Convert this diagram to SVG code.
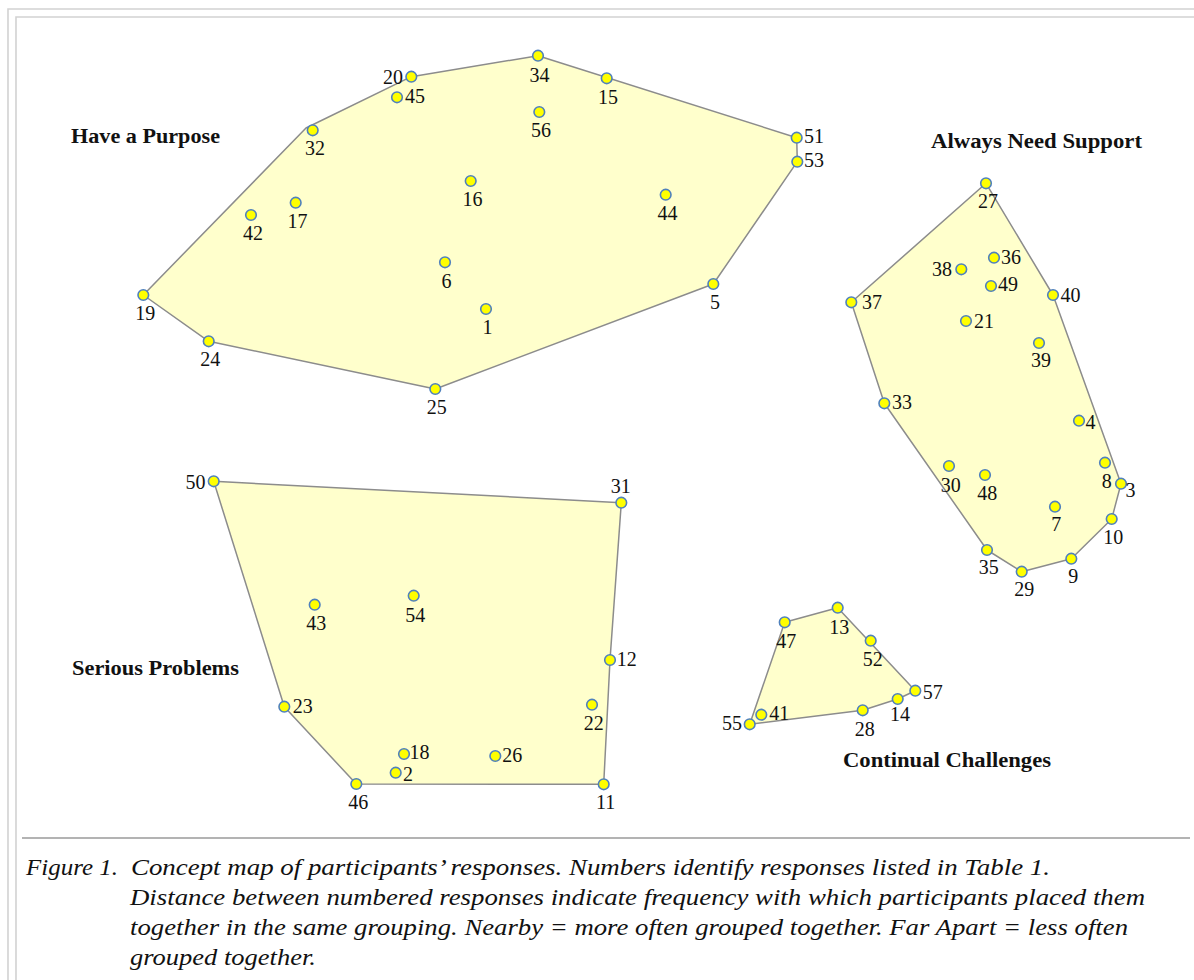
<svg xmlns="http://www.w3.org/2000/svg" width="1194" height="980" viewBox="0 0 1194 980">
<style>
.frame{fill:none;stroke:#d2d2d2;stroke-width:1.6}
.hull{fill:#ffffcc;stroke:#8c8c8c;stroke-width:1.5;stroke-linejoin:round}
.pt{fill:#ffff00;stroke:#4f81bd;stroke-width:1.6}
.n{font-family:"Liberation Serif","DejaVu Serif",serif;font-size:20px;fill:#111}
.m{text-anchor:middle}
.e{text-anchor:end}
.t{font-family:"Liberation Serif","DejaVu Serif",serif;font-size:20px;font-weight:bold;fill:#111}
.cap{font-family:"Liberation Serif","DejaVu Serif",serif;font-size:23px;font-style:italic;fill:#111}
</style>
<rect width="1194" height="980" fill="#ffffff"/>
<path class="frame" d="M1194,9 H8 V980"/>
<path class="frame" d="M1194,17 H16 V980"/>

<g id="connectors">
<polygon id="hull-purpose" class="hull" points="143.3,295 306,128 411.3,76.7 538,55.7 796.7,137.7 797.3,161.7 713.3,284 435.3,389 208.7,341.3"/>
<polygon id="hull-support" class="hull" points="986,183.3 1053,295 1121,483.7 1111.7,519 1071.3,558.7 1021.7,571.7 987,550 884.3,403.3 851.3,302.3"/>
<polygon id="hull-problems" class="hull" points="213.7,481.3 621.3,502.7 610,660 603.7,784.3 356.3,784 284.3,706.7"/>
<polygon id="hull-challenges" class="hull" points="749.7,724.3 784.7,622.3 837.7,607.7 915.3,690.7 897.7,699 862.7,710.3"/>
</g>

<g id="cluster-labels">
<text id="label-purpose" class="t" x="71" y="143" textLength="149" lengthAdjust="spacingAndGlyphs">Have a Purpose</text>
<text id="label-support" class="t" x="931" y="148" textLength="211" lengthAdjust="spacingAndGlyphs">Always Need Support</text>
<text id="label-problems" class="t" x="72" y="675" textLength="167" lengthAdjust="spacingAndGlyphs">Serious Problems</text>
<text id="label-challenges" class="t" x="843" y="767" textLength="208" lengthAdjust="spacingAndGlyphs">Continual Challenges</text>
</g>

<!-- Have a Purpose -->
<g id="n34"><circle class="pt" cx="538" cy="55.7" r="5.3"/><text class="n m" x="539.5" y="81.5">34</text></g>
<g id="n20"><circle class="pt" cx="411.3" cy="76.7" r="5.3"/><text class="n e" x="403" y="84">20</text></g>
<g id="n45"><circle class="pt" cx="397" cy="97.3" r="5.3"/><text class="n" x="405" y="103">45</text></g>
<g id="n15"><circle class="pt" cx="606.7" cy="78.3" r="5.3"/><text class="n m" x="608" y="103.5">15</text></g>
<g id="n56"><circle class="pt" cx="539.3" cy="112" r="5.3"/><text class="n m" x="541" y="137">56</text></g>
<g id="n51"><circle class="pt" cx="796.7" cy="137.7" r="5.3"/><text class="n" x="804" y="143">51</text></g>
<g id="n53"><circle class="pt" cx="797.3" cy="161.7" r="5.3"/><text class="n" x="804" y="167">53</text></g>
<g id="n32"><circle class="pt" cx="312.7" cy="130.3" r="5.3"/><text class="n m" x="315" y="155">32</text></g>
<g id="n16"><circle class="pt" cx="470.7" cy="181" r="5.3"/><text class="n m" x="472.5" y="206">16</text></g>
<g id="n44"><circle class="pt" cx="665.7" cy="194.7" r="5.3"/><text class="n m" x="667.5" y="220">44</text></g>
<g id="n17"><circle class="pt" cx="295.7" cy="202.7" r="5.3"/><text class="n m" x="297.5" y="227.5">17</text></g>
<g id="n42"><circle class="pt" cx="251" cy="215" r="5.3"/><text class="n m" x="253" y="240">42</text></g>
<g id="n6"><circle class="pt" cx="445" cy="262.3" r="5.3"/><text class="n m" x="446.5" y="287.5">6</text></g>
<g id="n19"><circle class="pt" cx="143.3" cy="295" r="5.3"/><text class="n m" x="145.3" y="320">19</text></g>
<g id="n1"><circle class="pt" cx="486" cy="309" r="5.3"/><text class="n m" x="487.5" y="334">1</text></g>
<g id="n5"><circle class="pt" cx="713.3" cy="284" r="5.3"/><text class="n m" x="715" y="308.5">5</text></g>
<g id="n24"><circle class="pt" cx="208.7" cy="341.3" r="5.3"/><text class="n m" x="210.3" y="366">24</text></g>
<g id="n25"><circle class="pt" cx="435.3" cy="389" r="5.3"/><text class="n m" x="436.7" y="414">25</text></g>

<!-- Always Need Support -->
<g id="n27"><circle class="pt" cx="986" cy="183.3" r="5.3"/><text class="n m" x="988" y="207.5">27</text></g>
<g id="n36"><circle class="pt" cx="994" cy="257.7" r="5.3"/><text class="n" x="1001" y="263.5">36</text></g>
<g id="n38"><circle class="pt" cx="961.3" cy="269.3" r="5.3"/><text class="n e" x="952" y="276">38</text></g>
<g id="n49"><circle class="pt" cx="991" cy="286" r="5.3"/><text class="n" x="998" y="291">49</text></g>
<g id="n40"><circle class="pt" cx="1053" cy="295" r="5.3"/><text class="n" x="1060.5" y="302">40</text></g>
<g id="n37"><circle class="pt" cx="851.3" cy="302.3" r="5.3"/><text class="n" x="862" y="309">37</text></g>
<g id="n21"><circle class="pt" cx="966" cy="321" r="5.3"/><text class="n" x="974" y="327.5">21</text></g>
<g id="n39"><circle class="pt" cx="1039" cy="343" r="5.3"/><text class="n m" x="1041" y="367">39</text></g>
<g id="n33"><circle class="pt" cx="884.3" cy="403.3" r="5.3"/><text class="n" x="892" y="409">33</text></g>
<g id="n4"><circle class="pt" cx="1079" cy="420.7" r="5.3"/><text class="n" x="1085.5" y="428.5">4</text></g>
<g id="n8"><circle class="pt" cx="1105" cy="462.7" r="5.3"/><text class="n m" x="1106.7" y="488">8</text></g>
<g id="n30"><circle class="pt" cx="949" cy="466" r="5.3"/><text class="n m" x="950.7" y="491.5">30</text></g>
<g id="n48"><circle class="pt" cx="985" cy="475" r="5.3"/><text class="n m" x="987.3" y="500">48</text></g>
<g id="n3"><circle class="pt" cx="1121" cy="483.7" r="5.3"/><text class="n" x="1125.5" y="497">3</text></g>
<g id="n7"><circle class="pt" cx="1055" cy="506.7" r="5.3"/><text class="n m" x="1056.3" y="531">7</text></g>
<g id="n10"><circle class="pt" cx="1111.7" cy="519" r="5.3"/><text class="n m" x="1113.3" y="543.5">10</text></g>
<g id="n35"><circle class="pt" cx="987" cy="550" r="5.3"/><text class="n m" x="988.7" y="574">35</text></g>
<g id="n9"><circle class="pt" cx="1071.3" cy="558.7" r="5.3"/><text class="n m" x="1073.3" y="582.5">9</text></g>
<g id="n29"><circle class="pt" cx="1021.7" cy="571.7" r="5.3"/><text class="n m" x="1024.3" y="596">29</text></g>

<!-- Serious Problems -->
<g id="n50"><circle class="pt" cx="213.7" cy="481.3" r="5.3"/><text class="n e" x="205.5" y="489">50</text></g>
<g id="n31"><circle class="pt" cx="621.3" cy="502.7" r="5.3"/><text class="n m" x="620.7" y="492.5">31</text></g>
<g id="n43"><circle class="pt" cx="314.7" cy="604.7" r="5.3"/><text class="n m" x="316.3" y="630">43</text></g>
<g id="n54"><circle class="pt" cx="413.7" cy="595.7" r="5.3"/><text class="n m" x="415.3" y="621.5">54</text></g>
<g id="n12"><circle class="pt" cx="610" cy="660" r="5.3"/><text class="n" x="616.7" y="666">12</text></g>
<g id="n23"><circle class="pt" cx="284.3" cy="706.7" r="5.3"/><text class="n" x="292.7" y="712.5">23</text></g>
<g id="n22"><circle class="pt" cx="592" cy="704.7" r="5.3"/><text class="n m" x="593.7" y="730">22</text></g>
<g id="n18"><circle class="pt" cx="404" cy="754" r="5.3"/><text class="n" x="409.5" y="759">18</text></g>
<g id="n26"><circle class="pt" cx="495.3" cy="756" r="5.3"/><text class="n" x="502.3" y="762">26</text></g>
<g id="n2"><circle class="pt" cx="395.7" cy="772.7" r="5.3"/><text class="n" x="403" y="781">2</text></g>
<g id="n46"><circle class="pt" cx="356.3" cy="784" r="5.3"/><text class="n m" x="358.3" y="808.5">46</text></g>
<g id="n11"><circle class="pt" cx="603.7" cy="784.3" r="5.3"/><text class="n m" x="605.7" y="808.5">11</text></g>

<!-- Continual Challenges -->
<g id="n13"><circle class="pt" cx="837.7" cy="607.7" r="5.3"/><text class="n m" x="839.3" y="633.5">13</text></g>
<g id="n47"><circle class="pt" cx="784.7" cy="622.3" r="5.3"/><text class="n m" x="786.3" y="647.5">47</text></g>
<g id="n52"><circle class="pt" cx="870.7" cy="640.7" r="5.3"/><text class="n m" x="872.7" y="666">52</text></g>
<g id="n57"><circle class="pt" cx="915.3" cy="690.7" r="5.3"/><text class="n" x="922.7" y="698.5">57</text></g>
<g id="n14"><circle class="pt" cx="897.7" cy="699" r="5.3"/><text class="n m" x="900" y="721">14</text></g>
<g id="n28"><circle class="pt" cx="862.7" cy="710.3" r="5.3"/><text class="n m" x="864.7" y="736">28</text></g>
<g id="n41"><circle class="pt" cx="761.3" cy="714.7" r="5.3"/><text class="n" x="769.3" y="719.5">41</text></g>
<g id="n55"><circle class="pt" cx="749.7" cy="724.3" r="5.3"/><text class="n e" x="742" y="730">55</text></g>

<line x1="22" y1="838" x2="1190" y2="838" stroke="#9a9a9a" stroke-width="1.5"/>
<g id="caption">
<text class="cap" x="26" y="875" textLength="92" lengthAdjust="spacingAndGlyphs">Figure 1.</text>
<text class="cap" x="131" y="875" textLength="919" lengthAdjust="spacingAndGlyphs">Concept map of participants’ responses. Numbers identify responses listed in Table 1.</text>
<text class="cap" x="130" y="905" textLength="1015" lengthAdjust="spacingAndGlyphs">Distance between numbered responses indicate frequency with which participants placed them</text>
<text class="cap" x="130" y="935" textLength="998" lengthAdjust="spacingAndGlyphs">together in the same grouping. Nearby = more often grouped together. Far Apart = less often</text>
<text class="cap" x="130" y="965" textLength="186" lengthAdjust="spacingAndGlyphs">grouped together.</text>
</g>
</svg>
